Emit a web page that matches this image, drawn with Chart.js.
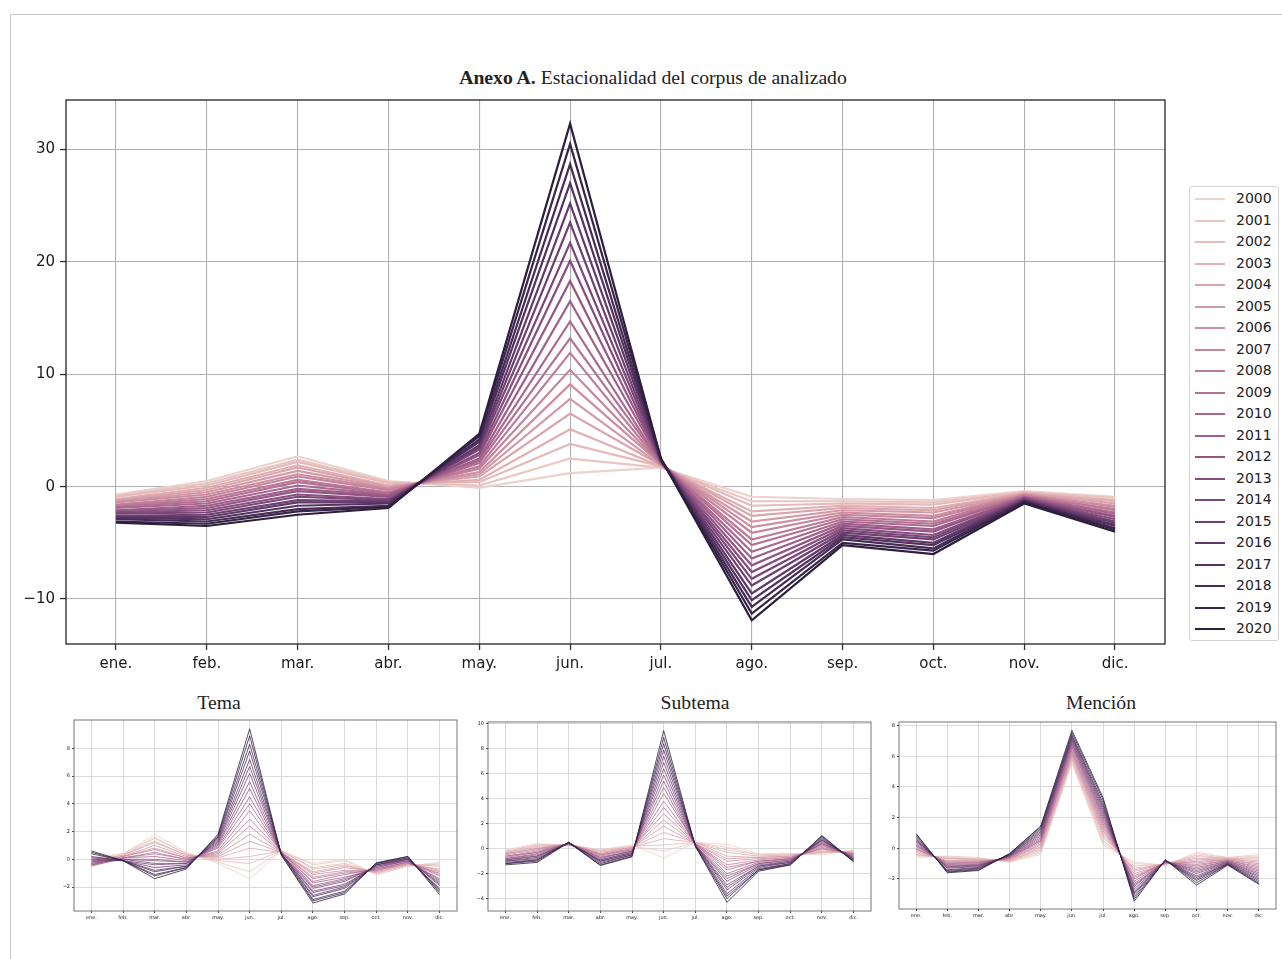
<!DOCTYPE html>
<html>
<head>
<meta charset="utf-8">
<script src="https://cdn.jsdelivr.net/npm/chart.js@4.4.0/dist/chart.umd.min.js"></script>
<style>
  body { margin: 0; width: 1282px; height: 959px; background: #fff; position: relative; overflow: hidden; font-family: 'DejaVu Sans', sans-serif; }
  .frame { position: absolute; left: 10px; top: 14px; width: 1272px; height: 945px; border-top: 1px solid #c8c8c8; border-left: 1px solid #c8c8c8; }
  .title { position: absolute; font-family: 'Liberation Serif', 'Times New Roman', serif; font-size: 19.7px; color: #222; white-space: nowrap; transform: translate(-50%, -50%); }
  .box { position: absolute; }
  #legend { position: absolute; left: 1189px; top: 186px; width: 90px; height: 455px; border: 1px solid #d4d4d4; border-radius: 3px; box-sizing: border-box; padding-top: 1px; }
  .item { height: 21.5px; position: relative; }
  .item .ln { position: absolute; left: 5px; top: 10px; width: 30px; height: 2px; }
  .item .lb { position: absolute; left: 46px; top: 0; line-height: 21.5px; font-size: 14px; color: #222; }
</style>
</head>
<body>
<div class="frame"></div>
<div class="title" style="left:653px;top:77px"><b>Anexo A.</b> Estacionalidad del corpus de analizado</div>
<div class="title" style="left:219px;top:702px">Tema</div>
<div class="title" style="left:695px;top:702px">Subtema</div>
<div class="title" style="left:1101px;top:702px">Mención</div>

<div class="box" style="left:0;top:86px;width:1180px;height:604px"><canvas id="mainChart"></canvas></div>
<div id="legend"></div>
<div class="box" style="left:40px;top:715px;width:430px;height:215px"><canvas id="temaChart"></canvas></div>
<div class="box" style="left:455px;top:715px;width:430px;height:215px"><canvas id="subtemaChart"></canvas></div>
<div class="box" style="left:865px;top:715px;width:417px;height:215px"><canvas id="mencionChart"></canvas></div>

<script>
//----datos
const months = ['ene.', 'feb.', 'mar.', 'abr.', 'may.', 'jun.', 'jul.', 'ago.', 'sep.', 'oct.', 'nov.', 'dic.'];
const years = [2000, 2001, 2002, 2003, 2004, 2005, 2006, 2007, 2008, 2009, 2010,
               2011, 2012, 2013, 2014, 2015, 2016, 2017, 2018, 2019, 2020];

// cada fila = un mes, valores de 2000 a 2020
const mainValues = [
  [-0.7, -0.8, -0.9, -1.1, -1.2, -1.3, -1.4, -1.6, -1.7, -1.8, -1.9, -2.1, -2.2, -2.3, -2.4, -2.6, -2.7, -2.8, -2.9, -3.1, -3.2], // ene
  [0.5, 0.3, 0.1, -0.1, -0.3, -0.5, -0.7, -0.9, -1.1, -1.3, -1.5, -1.7, -1.9, -2.1, -2.3, -2.5, -2.7, -2.9, -3.1, -3.3, -3.5], // feb
  [2.7, 2.4, 2.2, 1.9, 1.7, 1.4, 1.1, 0.9, 0.6, 0.4, 0.1, -0.2, -0.4, -0.7, -0.9, -1.2, -1.4, -1.7, -2.0, -2.2, -2.5], // mar
  [0.5, 0.4, 0.3, 0.1, 0.0, -0.1, -0.2, -0.3, -0.5, -0.6, -0.7, -0.8, -0.9, -1.1, -1.2, -1.3, -1.4, -1.5, -1.7, -1.8, -1.9], // abr
  [-0.1, 0.1, 0.4, 0.6, 0.9, 1.1, 1.3, 1.6, 1.8, 2.1, 2.3, 2.5, 2.8, 3.0, 3.3, 3.5, 3.7, 4.0, 4.2, 4.5, 4.7], // may
  [1.2, 2.5, 3.8, 5.1, 6.5, 7.8, 9.1, 10.4, 11.9, 13.2, 14.7, 16.5, 18.3, 20.1, 21.7, 23.5, 25.2, 27.0, 28.7, 30.5, 32.3], // jun
  [1.7, 1.7, 1.8, 1.8, 1.9, 1.9, 2.0, 2.0, 2.0, 2.1, 2.1, 2.2, 2.2, 2.2, 2.3, 2.3, 2.4, 2.4, 2.4, 2.5, 2.5], // jul
  [-0.9, -1.3, -1.7, -2.2, -2.6, -3.1, -3.6, -4.1, -4.7, -5.2, -5.8, -6.4, -7.0, -7.6, -8.2, -8.8, -9.5, -10.1, -10.7, -11.3, -11.9], // ago
  [-1.1, -1.3, -1.5, -1.7, -1.9, -2.1, -2.3, -2.5, -2.7, -2.9, -3.1, -3.3, -3.5, -3.7, -3.9, -4.1, -4.3, -4.5, -4.7, -5.0, -5.2], // sep
  [-1.2, -1.4, -1.6, -1.9, -2.1, -2.3, -2.6, -2.8, -3.1, -3.3, -3.5, -3.8, -4.0, -4.3, -4.5, -4.7, -5.0, -5.2, -5.5, -5.7, -6.0], // oct
  [-0.4, -0.5, -0.5, -0.6, -0.6, -0.7, -0.7, -0.8, -0.8, -0.9, -0.9, -1.0, -1.0, -1.1, -1.1, -1.2, -1.2, -1.3, -1.3, -1.4, -1.5], // nov
  [-0.9, -1.0, -1.2, -1.3, -1.5, -1.7, -1.8, -2.0, -2.1, -2.3, -2.4, -2.6, -2.7, -2.9, -3.1, -3.2, -3.4, -3.5, -3.7, -3.8, -4.0]  // dic
];

const temaValues = [
  [0.1, 0.0, -0.1, -0.1, -0.2, -0.2, -0.3, -0.3, -0.4, -0.4, -0.5, -0.4, -0.3, -0.2, -0.1, 0.0, 0.1, 0.2, 0.4, 0.5, 0.6],
  [0.4, 0.4, 0.3, 0.3, 0.3, 0.2, 0.2, 0.2, 0.1, 0.1, 0.1, 0.0, 0.0, 0.0, -0.1, -0.1, -0.1, -0.1, -0.1, -0.1, -0.1],
  [1.8, 1.6, 1.5, 1.3, 1.2, 1.0, 0.8, 0.7, 0.5, 0.4, 0.2, 0.0, -0.1, -0.3, -0.4, -0.6, -0.8, -0.9, -1.1, -1.2, -1.4],
  [0.5, 0.4, 0.4, 0.3, 0.3, 0.2, 0.1, 0.1, 0.0, 0.0, -0.1, -0.2, -0.2, -0.3, -0.3, -0.4, -0.5, -0.5, -0.6, -0.6, -0.7],
  [-0.3, -0.2, -0.1, 0.0, 0.1, 0.2, 0.3, 0.4, 0.5, 0.6, 0.8, 0.9, 1.0, 1.1, 1.2, 1.3, 1.4, 1.5, 1.6, 1.7, 1.8],
  [-1.4, -0.9, -0.3, 0.2, 0.8, 1.3, 1.8, 2.4, 2.9, 3.5, 4.0, 4.5, 5.1, 5.6, 6.2, 6.7, 7.2, 7.8, 8.3, 8.9, 9.4],
  [0.6, 0.6, 0.6, 0.6, 0.5, 0.5, 0.5, 0.5, 0.5, 0.5, 0.5, 0.5, 0.4, 0.4, 0.4, 0.4, 0.4, 0.4, 0.4, 0.3, 0.3],
  [-0.3, -0.4, -0.6, -0.7, -0.9, -1.0, -1.1, -1.3, -1.4, -1.6, -1.7, -1.9, -2.0, -2.1, -2.3, -2.4, -2.6, -2.7, -2.9, -3.0, -3.15],
  [0.0, -0.1, -0.3, -0.4, -0.5, -0.6, -0.8, -0.9, -1.0, -1.1, -1.3, -1.4, -1.5, -1.6, -1.8, -1.9, -2.0, -2.1, -2.3, -2.4, -2.5],
  [-1.1, -1.1, -1.0, -1.0, -0.9, -0.9, -0.8, -0.8, -0.8, -0.7, -0.7, -0.6, -0.6, -0.5, -0.5, -0.4, -0.4, -0.4, -0.3, -0.3, -0.25],
  [-0.5, -0.5, -0.4, -0.4, -0.4, -0.3, -0.3, -0.3, -0.2, -0.2, -0.2, -0.1, -0.1, -0.1, 0.0, 0.0, 0.0, 0.1, 0.1, 0.2, 0.2],
  [-0.2, -0.3, -0.4, -0.5, -0.7, -0.8, -0.9, -1.0, -1.1, -1.2, -1.4, -1.5, -1.6, -1.7, -1.8, -1.9, -2.1, -2.2, -2.3, -2.4, -2.55]
];

const subtemaValues = [
  [-0.1, -0.2, -0.2, -0.3, -0.3, -0.4, -0.4, -0.5, -0.6, -0.6, -0.7, -0.8, -0.8, -0.9, -0.9, -1.0, -1.0, -1.1, -1.2, -1.2, -1.3],
  [0.4, 0.3, 0.3, 0.2, 0.1, 0.0, 0.0, -0.1, -0.2, -0.3, -0.3, -0.4, -0.5, -0.6, -0.6, -0.7, -0.8, -0.9, -0.9, -1.0, -1.1],
  [0.3, 0.3, 0.3, 0.3, 0.3, 0.3, 0.4, 0.4, 0.4, 0.4, 0.4, 0.4, 0.4, 0.4, 0.4, 0.5, 0.5, 0.5, 0.5, 0.5, 0.5],
  [-0.1, -0.1, -0.2, -0.2, -0.3, -0.4, -0.4, -0.5, -0.5, -0.6, -0.7, -0.7, -0.8, -0.9, -0.9, -1.0, -1.0, -1.1, -1.2, -1.3, -1.35],
  [0.3, 0.2, 0.2, 0.1, 0.1, 0.1, 0.0, 0.0, -0.1, -0.1, -0.2, -0.2, -0.2, -0.3, -0.3, -0.4, -0.4, -0.5, -0.5, -0.6, -0.65],
  [-0.75, -0.2, 0.3, 0.8, 1.3, 1.8, 2.3, 2.8, 3.3, 3.8, 4.4, 4.9, 5.4, 5.9, 6.4, 6.9, 7.4, 7.9, 8.4, 8.9, 9.45],
  [0.5, 0.5, 0.5, 0.5, 0.5, 0.4, 0.4, 0.4, 0.4, 0.4, 0.4, 0.3, 0.3, 0.3, 0.3, 0.3, 0.3, 0.3, 0.2, 0.2, 0.2],
  [0.35, 0.1, -0.1, -0.3, -0.6, -0.8, -1.0, -1.3, -1.5, -1.7, -2.0, -2.2, -2.4, -2.6, -2.9, -3.1, -3.3, -3.6, -3.8, -4.0, -4.3],
  [-0.4, -0.5, -0.5, -0.6, -0.7, -0.7, -0.8, -0.9, -1.0, -1.0, -1.1, -1.2, -1.2, -1.3, -1.4, -1.4, -1.5, -1.6, -1.7, -1.7, -1.8],
  [-0.4, -0.4, -0.5, -0.5, -0.6, -0.6, -0.7, -0.7, -0.8, -0.8, -0.8, -0.9, -0.9, -1.0, -1.0, -1.1, -1.1, -1.2, -1.2, -1.3, -1.3],
  [-0.5, -0.4, -0.3, -0.3, -0.2, -0.1, 0.0, 0.0, 0.1, 0.2, 0.3, 0.4, 0.4, 0.5, 0.6, 0.7, 0.7, 0.8, 0.9, 1.0, 1.05],
  [-0.1, -0.15, -0.2, -0.25, -0.3, -0.35, -0.4, -0.4, -0.5, -0.5, -0.6, -0.6, -0.7, -0.7, -0.8, -0.8, -0.9, -0.9, -1.0, -1.0, -1.05]
];

const mencionValues = [
  [-0.6, -0.5, -0.45, -0.4, -0.3, -0.2, -0.1, -0.05, 0.0, 0.1, 0.2, 0.2, 0.3, 0.4, 0.5, 0.5, 0.6, 0.7, 0.8, 0.9, 0.95],
  [-0.5, -0.55, -0.6, -0.65, -0.7, -0.8, -0.85, -0.9, -0.95, -1.0, -1.05, -1.1, -1.15, -1.2, -1.25, -1.3, -1.4, -1.45, -1.5, -1.55, -1.6],
  [-0.6, -0.65, -0.7, -0.7, -0.75, -0.8, -0.85, -0.9, -0.9, -0.95, -1.0, -1.05, -1.1, -1.1, -1.15, -1.2, -1.25, -1.3, -1.35, -1.4, -1.45],
  [-0.9, -0.9, -0.85, -0.8, -0.8, -0.75, -0.7, -0.7, -0.65, -0.6, -0.6, -0.55, -0.55, -0.5, -0.5, -0.45, -0.45, -0.4, -0.4, -0.35, -0.35],
  [-0.4, -0.3, -0.2, -0.1, 0.0, 0.1, 0.2, 0.3, 0.4, 0.5, 0.5, 0.6, 0.7, 0.8, 0.9, 1.0, 1.1, 1.2, 1.3, 1.4, 1.45],
  [5.55, 5.65, 5.75, 5.85, 5.95, 6.05, 6.15, 6.25, 6.35, 6.45, 6.6, 6.7, 6.8, 6.9, 7.0, 7.1, 7.2, 7.3, 7.4, 7.55, 7.7],
  [0.2, 0.35, 0.5, 0.7, 0.85, 1.0, 1.15, 1.3, 1.45, 1.6, 1.75, 1.9, 2.05, 2.2, 2.35, 2.5, 2.65, 2.8, 2.95, 3.15, 3.3],
  [-0.9, -1.0, -1.15, -1.3, -1.4, -1.5, -1.65, -1.8, -1.9, -2.0, -2.15, -2.3, -2.4, -2.5, -2.65, -2.8, -2.9, -3.0, -3.15, -3.3, -3.45],
  [-1.1, -1.1, -1.05, -1.05, -1.0, -1.0, -1.0, -0.95, -0.95, -0.9, -0.9, -0.9, -0.85, -0.85, -0.85, -0.8, -0.8, -0.8, -0.8, -0.75, -0.75],
  [-0.25, -0.35, -0.45, -0.55, -0.65, -0.75, -0.85, -0.95, -1.05, -1.15, -1.25, -1.35, -1.45, -1.55, -1.65, -1.8, -1.9, -2.0, -2.1, -2.25, -2.4],
  [-0.6, -0.6, -0.65, -0.65, -0.7, -0.7, -0.75, -0.75, -0.8, -0.8, -0.85, -0.85, -0.9, -0.9, -0.95, -0.95, -1.0, -1.0, -1.05, -1.05, -1.1],
  [-0.4, -0.5, -0.6, -0.7, -0.8, -0.9, -1.0, -1.1, -1.2, -1.3, -1.4, -1.5, -1.6, -1.7, -1.8, -1.9, -2.0, -2.1, -2.2, -2.3, -2.35]
];

const mainYTicks = [-10, 0, 10, 20, 30];
const temaYTicks = [-2, 0, 2, 4, 6, 8];
const subtemaYTicks = [-4, -2, 0, 2, 4, 6, 8, 10];
const mencionYTicks = [-2, 0, 2, 4, 6, 8];

//----colores (paleta cubehelix de seaborn)
function cubehelix(t) {
  const x = 0.85 - 0.7 * t;
  const a = 0.8 * x * (1 - x) / 2;
  const phi = 2 * Math.PI * (0.4 * x);
  const c = Math.cos(phi), s = Math.sin(phi);
  const r = x + a * (-0.14861 * c + 1.78277 * s);
  const g = x + a * (-0.29227 * c - 0.90649 * s);
  const b = x + a * (1.97294 * c);
  const to = v => Math.round(Math.max(0, Math.min(1, v)) * 255);
  return 'rgb(' + to(r) + ',' + to(g) + ',' + to(b) + ')';
}

const minus = v => v < 0 ? '\u2212' + Math.abs(v) : String(v);

// marco completo alrededor del area
const framePlugin = {
  id: 'frame',
  afterDatasetsDraw(chart, args, opts) {
    const a = chart.chartArea, ctx = chart.ctx;
    ctx.save();
    ctx.strokeStyle = opts.color;
    ctx.lineWidth = opts.width;
    ctx.strokeRect(a.left, a.top, a.right - a.left, a.bottom - a.top);
    ctx.restore();
  }
};

function makeChart(id, values, cfg) {
  const datasets = years.map((yr, i) => ({
    label: String(yr),
    data: months.map((m, j) => ({ x: j, y: values[j][i] })),
    borderColor: cubehelix(i / (years.length - 1)),
    borderWidth: cfg.lineWidth,
    pointRadius: 0,
    tension: 0,
    fill: false,
    order: years.length - 1 - i
  }));
  return new Chart(document.getElementById(id).getContext('2d'), {
    type: 'line',
    data: { datasets: datasets },
    plugins: [framePlugin],
    options: {
      responsive: true,
      maintainAspectRatio: false,
      animation: false,
      layout: { padding: cfg.padding },
      plugins: {
        legend: { display: false },
        tooltip: { enabled: false },
        frame: { color: cfg.frameColor, width: cfg.frameWidth }
      },
      scales: {
        x: {
          type: 'linear',
          min: -0.55,
          max: 11.55,
          afterBuildTicks: s => { s.ticks = months.map((m, j) => ({ value: j })); },
          afterFit: s => { s.height = cfg.xHeight; },
          ticks: { callback: v => months[v], font: { family: 'DejaVu Sans', size: cfg.font }, color: '#1a1a1a', padding: cfg.tickPad, maxRotation: 0, autoSkip: false },
          grid: { color: cfg.gridColor, lineWidth: cfg.gridWidth, tickLength: cfg.tickLen, tickColor: '#333', tickWidth: cfg.frameWidth },
          border: { display: false }
        },
        y: {
          type: 'linear',
          min: cfg.yMin,
          max: cfg.yMax,
          afterBuildTicks: s => { s.ticks = cfg.yTicks.map(v => ({ value: v })); },
          afterFit: s => { s.width = cfg.yWidth; },
          ticks: { callback: minus, font: { family: 'DejaVu Sans', size: cfg.font }, color: '#1a1a1a', padding: cfg.tickPad },
          grid: { color: cfg.gridColor, lineWidth: cfg.gridWidth, tickLength: cfg.tickLen, tickColor: '#333', tickWidth: cfg.frameWidth },
          border: { display: false }
        }
      }
    }
  });
}

const mainChart = makeChart('mainChart', mainValues, {
  lineWidth: 2.2, padding: { left: 0, right: 15, top: 9, bottom: 0 },
  xHeight: 46, yWidth: 66, yMin: -14.0, yMax: 34.4, yTicks: mainYTicks,
  font: 15, tickPad: 5, tickLen: 6, gridColor: '#b0b0b0', gridWidth: 1.1,
  frameColor: '#222', frameWidth: 1.3
});

const small = {
  lineWidth: 0.8, font: 5, tickPad: 2, tickLen: 2, gridColor: '#d2d2d2', gridWidth: 0.8,
  frameColor: '#666', frameWidth: 0.9
};

makeChart('temaChart', temaValues, Object.assign({}, small, {
  padding: { left: 0, right: 13, top: 5, bottom: 0 }, xHeight: 19, yWidth: 34,
  yMin: -3.73, yMax: 10.04, yTicks: temaYTicks
}));
makeChart('subtemaChart', subtemaValues, Object.assign({}, small, {
  padding: { left: 0, right: 14, top: 7, bottom: 0 }, xHeight: 19, yWidth: 33,
  yMin: -4.99, yMax: 10.14, yTicks: subtemaYTicks
}));
makeChart('mencionChart', mencionValues, Object.assign({}, small, {
  padding: { left: 0, right: 6, top: 7, bottom: 0 }, xHeight: 21, yWidth: 34,
  yMin: -3.96, yMax: 8.24, yTicks: mencionYTicks
}));

//----leyenda
const legend = document.getElementById('legend');
mainChart.data.datasets.forEach(ds => {
  const row = document.createElement('div');
  row.className = 'item';
  row.innerHTML = '<span class="ln" style="background:' + ds.borderColor + '"></span><span class="lb">' + ds.label + '</span>';
  legend.appendChild(row);
});
</script>
</body>
</html>
